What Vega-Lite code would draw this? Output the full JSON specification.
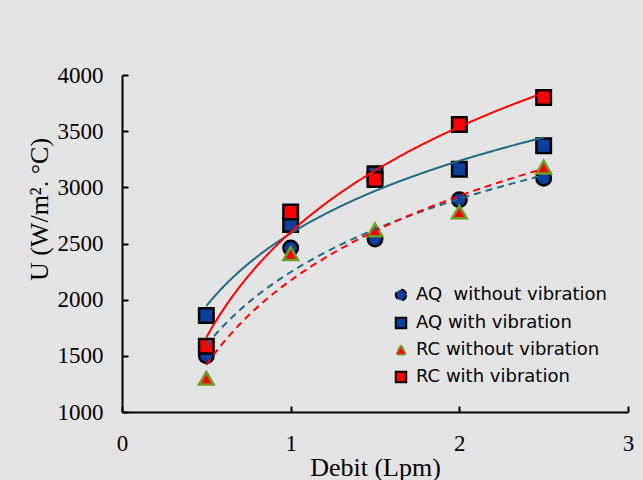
{
  "$schema": "https://vega.github.io/schema/vega-lite/v6.json",
  "width": 506,
  "height": 337,
  "autosize": {"type": "none"},
  "padding": {"left": 122, "top": 75, "right": 15, "bottom": 68},
  "background": "#e4e4e4",
  "config": {
    "view": {"stroke": null},
    "axis": {
      "grid": false,
      "domainColor": "black",
      "domainWidth": 2,
      "tickColor": "black",
      "tickWidth": 2,
      "tickSize": -6,
      "labelFont": "Liberation Serif",
      "labelFontSize": 23,
      "labelColor": "black",
      "labelFlush": false,
      "titleFont": "Liberation Serif",
      "titleFontSize": 26,
      "titleFontWeight": "normal",
      "titleColor": "black"
    },
    "legend": {
      "labelFont": "DejaVu Sans",
      "labelFontSize": 18,
      "labelLimit": 0,
      "labelColor": "black",
      "symbolSize": 110,
      "symbolStrokeWidth": 2,
      "rowPadding": 8,
      "labelOffset": 6
    }
  },
  "data": {
    "values": [
      {"series": "AQ\u00a0 without vibration", "debit": 0.5, "u": 1500},
      {"series": "AQ\u00a0 without vibration", "debit": 1.0, "u": 2460},
      {"series": "AQ\u00a0 without vibration", "debit": 1.5, "u": 2540},
      {"series": "AQ\u00a0 without vibration", "debit": 2.0, "u": 2890},
      {"series": "AQ\u00a0 without vibration", "debit": 2.5, "u": 3080},
      {"series": "AQ with vibration", "debit": 0.5, "u": 1860},
      {"series": "AQ with vibration", "debit": 1.0, "u": 2670},
      {"series": "AQ with vibration", "debit": 1.5, "u": 3120},
      {"series": "AQ with vibration", "debit": 2.0, "u": 3160},
      {"series": "AQ with vibration", "debit": 2.5, "u": 3370},
      {"series": "RC without vibration", "debit": 0.5, "u": 1300},
      {"series": "RC without vibration", "debit": 1.0, "u": 2410},
      {"series": "RC without vibration", "debit": 1.5, "u": 2620},
      {"series": "RC without vibration", "debit": 2.0, "u": 2780},
      {"series": "RC without vibration", "debit": 2.5, "u": 3180},
      {"series": "RC with vibration", "debit": 0.5, "u": 1585},
      {"series": "RC with vibration", "debit": 1.0, "u": 2780},
      {"series": "RC with vibration", "debit": 1.5, "u": 3070},
      {"series": "RC with vibration", "debit": 2.0, "u": 3560},
      {"series": "RC with vibration", "debit": 2.5, "u": 3800}
    ]
  },
  "layer": [
    {
      "mark": {"type": "point", "filled": true, "opacity": 1, "strokeWidth": 2.5, "size": 210},
      "encoding": {
        "x": {
          "field": "debit", "type": "quantitative",
          "scale": {"domain": [0, 3], "nice": false},
          "axis": {"values": [0, 1, 2, 3], "format": "d", "labelPadding": 26, "title": "Debit (Lpm)", "titlePadding": -1}
        },
        "y": {
          "field": "u", "type": "quantitative",
          "scale": {"domain": [1000, 4000], "nice": false, "zero": false},
          "axis": {"values": [1000, 1500, 2000, 2500, 3000, 3500, 4000], "format": "d", "labelPadding": 25, "title": "U (W/m². °C)", "titleX": -83, "titleY": 134, "titleBaseline": "middle", "titleAlign": "center", "titleAngle": -90}
        },
        "shape": {
          "field": "series", "type": "nominal",
          "scale": {"domain": ["AQ\u00a0 without vibration", "AQ with vibration", "RC without vibration", "RC with vibration"], "range": ["circle", "square", "triangle-up", "square"]},
          "legend": {"orient": "none", "legendX": 270, "legendY": 211, "title": null}
        },
        "fill": {
          "field": "series", "type": "nominal",
          "scale": {"domain": ["AQ\u00a0 without vibration", "AQ with vibration", "RC without vibration", "RC with vibration"], "range": ["#0b3f9e", "#0b3f9e", "#ff0000", "#ff0000"]},
          "legend": {"orient": "none", "legendX": 270, "legendY": 211, "title": null}
        },
        "stroke": {
          "field": "series", "type": "nominal",
          "scale": {"domain": ["AQ\u00a0 without vibration", "AQ with vibration", "RC without vibration", "RC with vibration"], "range": ["#000000", "#000000", "#6f9c25", "#000000"]},
          "legend": {"orient": "none", "legendX": 270, "legendY": 211, "title": null}
        }
      }
    },
    {
      "transform": [
        {"regression": "u", "on": "debit", "method": "log", "groupby": ["series"], "extent": [0.5, 2.5]}
      ],
      "mark": {"type": "line", "strokeWidth": 2},
      "encoding": {
        "x": {"field": "debit", "type": "quantitative"},
        "y": {"field": "u", "type": "quantitative"},
        "color": {
          "field": "series", "type": "nominal", "legend": null,
          "scale": {"domain": ["AQ\u00a0 without vibration", "AQ with vibration", "RC without vibration", "RC with vibration"], "range": ["#1d6b86", "#1d6b86", "#ff0000", "#ff0000"]}
        },
        "strokeDash": {
          "field": "series", "type": "nominal", "legend": null,
          "scale": {"domain": ["AQ\u00a0 without vibration", "AQ with vibration", "RC without vibration", "RC with vibration"], "range": [[7, 5], [1, 0], [7, 5], [1, 0]]}
        }
      }
    }
  ]
}
